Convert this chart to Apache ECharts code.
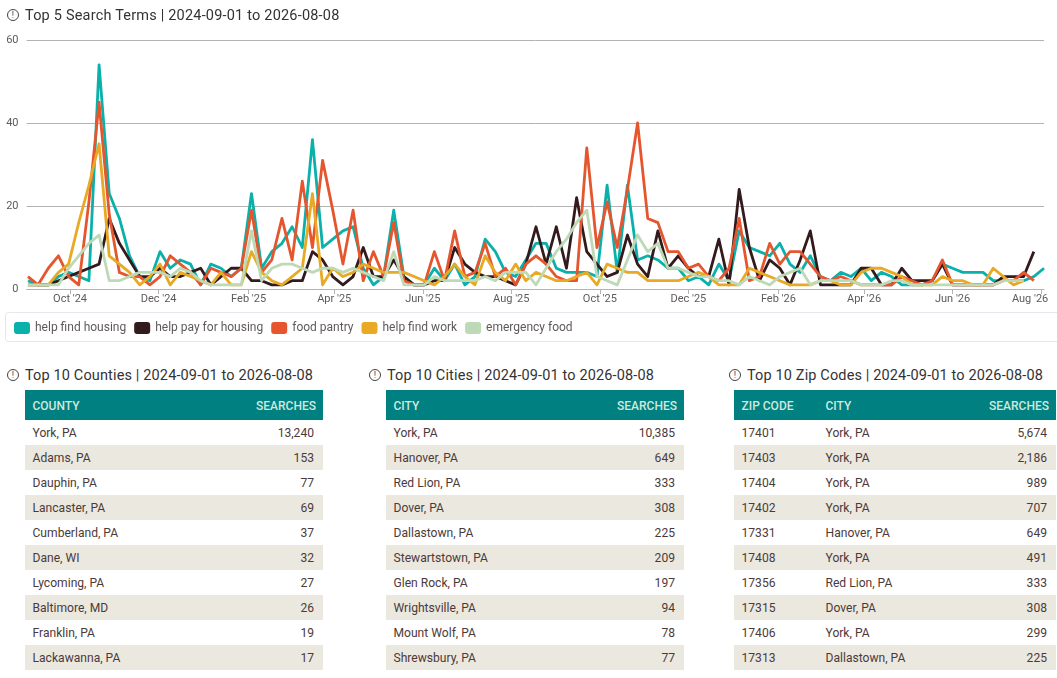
<!DOCTYPE html>
<html><head><meta charset="utf-8">
<script src="https://cdn.jsdelivr.net/npm/echarts@6/dist/echarts.min.js"></script>
<style>
html,body{margin:0;padding:0;background:#fff;overflow:hidden}
body{width:1057px;height:678px;position:relative;font-family:Roboto,sans-serif}
#chart{position:absolute;left:0;top:0;width:1057px;height:345px}
.title{position:absolute;font-size:14.5px;line-height:18px;color:#333;white-space:nowrap;letter-spacing:.14px}
.icon{position:absolute;width:10px;height:10px;border:1px solid #444;border-radius:50%;font-size:9px;line-height:10px;text-align:center;color:#444}
table{position:absolute;top:390px;border-collapse:collapse;table-layout:fixed;font-size:12.1px;color:#4b3a3a}
th{background:#008080;color:#cfe8de;font-weight:500;height:30px;padding:1px 0 0 0;box-sizing:border-box;text-align:left;font-size:12px}
td{height:25px;padding:0}
tr.alt td{background:#ebe8df}
.r{text-align:right}
</style></head><body>
<div id="chart"></div>
<div id="tables"></div>
<script>
const axisStart = [2024, 8, 1];
const firstWeek = [2024, 8, 2];
const seriesNames = ['help find housing','help pay for housing','food pantry','help find work','emergency food'];
const seriesColors = ['#0AB0AA','#331A1C','#E5562E','#E8A924','#BDD9B5'];
const helpFindHousing = [2,1,1,3,4,3,2,54,23,17,8,3,2,9,5,7,6,1,6,5,3,5,23,5,9,11,15,10,36,10,12,14,15,5,1,3,19,3,1,1,5,2,6,1,3,12,9,4,3,7,11,11,5,4,4,4,3,25,4,25,7,8,7,5,5,2,3,1,6,2,14,10,9,8,11,6,4,8,3,2,4,3,5,2,4,3,1,1,1,2,6,5,4,4,4,2,2,2,2,3,5];
const helpPayForHousing = [1,1,1,2,3,4,5,6,17,11,7,3,3,5,3,3,4,5,1,3,5,5,2,2,1,1,2,2,9,7,3,1,3,10,3,3,7,3,1,1,2,2,10,6,4,3,3,2,1,6,15,6,15,5,22,9,6,3,4,13,6,3,14,5,8,5,3,3,12,1,24,10,2,7,5,1,7,14,1,1,1,1,5,5,1,1,5,2,2,2,6,1,1,1,1,1,3,3,3,9,null];
const foodPantry = [3,1,5,8,3,1,21,45,18,4,3,3,1,3,8,6,4,1,5,4,3,5,19,4,7,17,7,26,10,31,19,6,19,2,9,3,16,2,1,1,9,2,14,3,4,11,3,5,1,6,8,6,3,2,2,34,10,21,10,24,40,17,16,9,9,5,6,3,2,5,17,2,3,11,6,9,9,6,3,2,3,2,1,1,1,1,3,2,1,2,7,1,1,1,1,1,2,2,4,2,null];
const helpFindWork = [1,1,1,4,6,16,25,35,8,6,4,1,3,6,1,4,3,2,1,4,1,1,9,4,2,1,3,5,23,1,5,3,4,6,5,4,4,4,3,2,1,3,6,3,1,8,4,2,6,2,4,3,2,2,3,4,1,6,5,4,4,2,2,2,2,3,4,3,1,1,1,5,4,3,2,1,1,1,2,2,1,1,4,5,5,4,3,1,1,1,3,2,2,1,1,5,3,1,2,null,null];
const emergencyFood = [1,1,1,1,5,8,11,13,2,2,3,4,4,4,3,5,4,2,1,1,1,1,14,2,5,6,6,5,4,5,5,4,5,4,3,2,9,1,1,1,3,2,2,2,2,3,2,4,4,4,1,5,9,12,16,19,3,2,1,7,13,9,11,5,5,4,3,3,2,2,1,3,2,1,3,4,5,1,2,2,2,2,1,1,1,2,2,1,1,1,1,1,1,1,1,1,2,2,2,null,null];
const seriesValues = [helpFindHousing,helpPayForHousing,foodPantry,helpFindWork,emergencyFood];
const xTickMonths = [[2024,9],[2024,11],[2025,1],[2025,3],[2025,5],[2025,7],[2025,9],[2025,11],[2026,1],[2026,3],[2026,5],[2026,7]];
const xTickLabels = ["Oct '24","Dec '24","Feb '25","Apr '25","Jun '25","Aug '25","Oct '25","Dec '25","Feb '26","Apr '26","Jun '26","Aug '26"];

const countyRows = [['York, PA','13,240'],['Adams, PA','153'],['Dauphin, PA','77'],['Lancaster, PA','69'],['Cumberland, PA','37'],['Dane, WI','32'],['Lycoming, PA','27'],['Baltimore, MD','26'],['Franklin, PA','19'],['Lackawanna, PA','17']];
const cityRows = [['York, PA','10,385'],['Hanover, PA','649'],['Red Lion, PA','333'],['Dover, PA','308'],['Dallastown, PA','225'],['Stewartstown, PA','209'],['Glen Rock, PA','197'],['Wrightsville, PA','94'],['Mount Wolf, PA','78'],['Shrewsbury, PA','77']];
const zipRows = [['17401','York, PA','5,674'],['17403','York, PA','2,186'],['17404','York, PA','989'],['17402','York, PA','707'],['17331','Hanover, PA','649'],['17408','York, PA','491'],['17356','Red Lion, PA','333'],['17315','Dover, PA','308'],['17406','York, PA','299'],['17313','Dallastown, PA','225']];

const titles = [
 ['Top 5 Search Terms | 2024-09-01 to 2026-08-08',7,25,7,.2],
 ['Top 10 Counties | 2024-09-01 to 2026-08-08',7,25,367,.14],
 ['Top 10 Cities | 2024-09-01 to 2026-08-08',369,387,367,.14],
 ['Top 10 Zip Codes | 2024-09-01 to 2026-08-08',729,747,367,.14]
];
const holder = document.getElementById('tables');
let html = '';
for (const t of titles) {
  html += `<div class="icon" style="left:${t[1]}px;top:${t[3]+2}px">!</div><div class="title" style="left:${t[2]}px;top:${t[3]}px;letter-spacing:${t[4]}px">${t[0]}</div>`;
}
function tableHtml(left, widths, heads, rows){
  const total = widths.reduce((a,b)=>a+b,0);
  let s = `<table style="left:${left}px;width:${total}px"><colgroup>${widths.map(w=>`<col style="width:${w}px">`).join('')}</colgroup><tr>`;
  heads.forEach((h,i)=>{const last=i===heads.length-1; s+=`<th class="${last?'r':''}" style="${last?'padding-right:7px':'padding-left:7.5px'}">${h}</th>`;});
  s += '</tr>';
  rows.forEach((r,k)=>{ s+=`<tr class="${k%2?'alt':''}">`; r.forEach((c,i)=>{const last=i===r.length-1; s+=`<td class="${last?'r':''}" style="${last?'padding-right:9px':'padding-left:7.5px'}">${c}</td>`;}); s+='</tr>'; });
  return s+'</table>';
}
html += tableHtml(25,[150,148],['COUNTY','SEARCHES'],countyRows);
html += tableHtml(386,[150,148],['CITY','SEARCHES'],cityRows);
html += tableHtml(734,[84,120,118],['ZIP CODE','CITY','SEARCHES'],zipRows);
holder.innerHTML = html;

const t0 = new Date(firstWeek[0],firstWeek[1],firstWeek[2]).getTime();
const axisMin = new Date(axisStart[0],axisStart[1],axisStart[2]).getTime();
const dates = helpFindHousing.map((_,i)=>{const d=new Date(t0); d.setDate(d.getDate()+7*i); return d.getTime();});
const tickValues = xTickMonths.map(m=>new Date(m[0],m[1],1).getTime());
// The last label sits left of its tick in the reference, so its anchor is pulled back about a week.
const labelValues = tickValues.map((v,i)=> i===tickValues.length-1 ? v-7.6*86400000 : v);
const fam = 'Roboto, sans-serif';
const chart = echarts.init(document.getElementById('chart'),null,{renderer:'canvas'});
chart.setOption({
  animation:false,
  textStyle:{fontFamily:fam},
  grid:{left:26.5,right:13,top:40,height:249,containLabel:false,outerBoundsMode:'none'},
  legend:{left:14,top:322,padding:0,itemWidth:16,itemHeight:12,itemGap:8,icon:'roundRect',selectedMode:false,
    data:seriesNames,textStyle:{fontFamily:fam,fontSize:12,color:'#5f5a5a',letterSpacing:0.3}},
  graphic:[{type:'rect',silent:true,z:-1,shape:{x:5.5,y:312.5,width:1060,height:29,r:3},style:{fill:'#fff',stroke:'#e6e6ec',lineWidth:1}}],
  xAxis:{type:'value',min:axisMin,max:dates[dates.length-1],
    axisLine:{onZero:false,lineStyle:{color:'#b3b3b3'}},
    axisTick:{length:5,lineStyle:{color:'#b3b3b3'},customValues:tickValues},
    splitLine:{show:false},
    axisLabel:{color:'#5f5a5a',fontSize:11,margin:5,hideOverlap:false,customValues:labelValues,
      formatter:v=>xTickLabels[labelValues.indexOf(v)]}},
  yAxis:{type:'value',min:0,max:60,interval:20,
    axisLine:{show:false},axisTick:{show:false},
    splitLine:{lineStyle:{color:'#b3b3b3',width:1}},
    axisLabel:{color:'#5f5a5a',fontSize:11,margin:8,padding:[2,0,0,0]}},
  series:seriesNames.map((n,i)=>({name:n,type:'line',showSymbol:false,symbol:'none',silent:true,connectNulls:false,
    color:seriesColors[i],lineStyle:{width:2.8,join:'round',color:seriesColors[i]},z:2+i,
    data:dates.map((d,k)=>[d,seriesValues[i][k]])}))
});
</script>
</body></html>
